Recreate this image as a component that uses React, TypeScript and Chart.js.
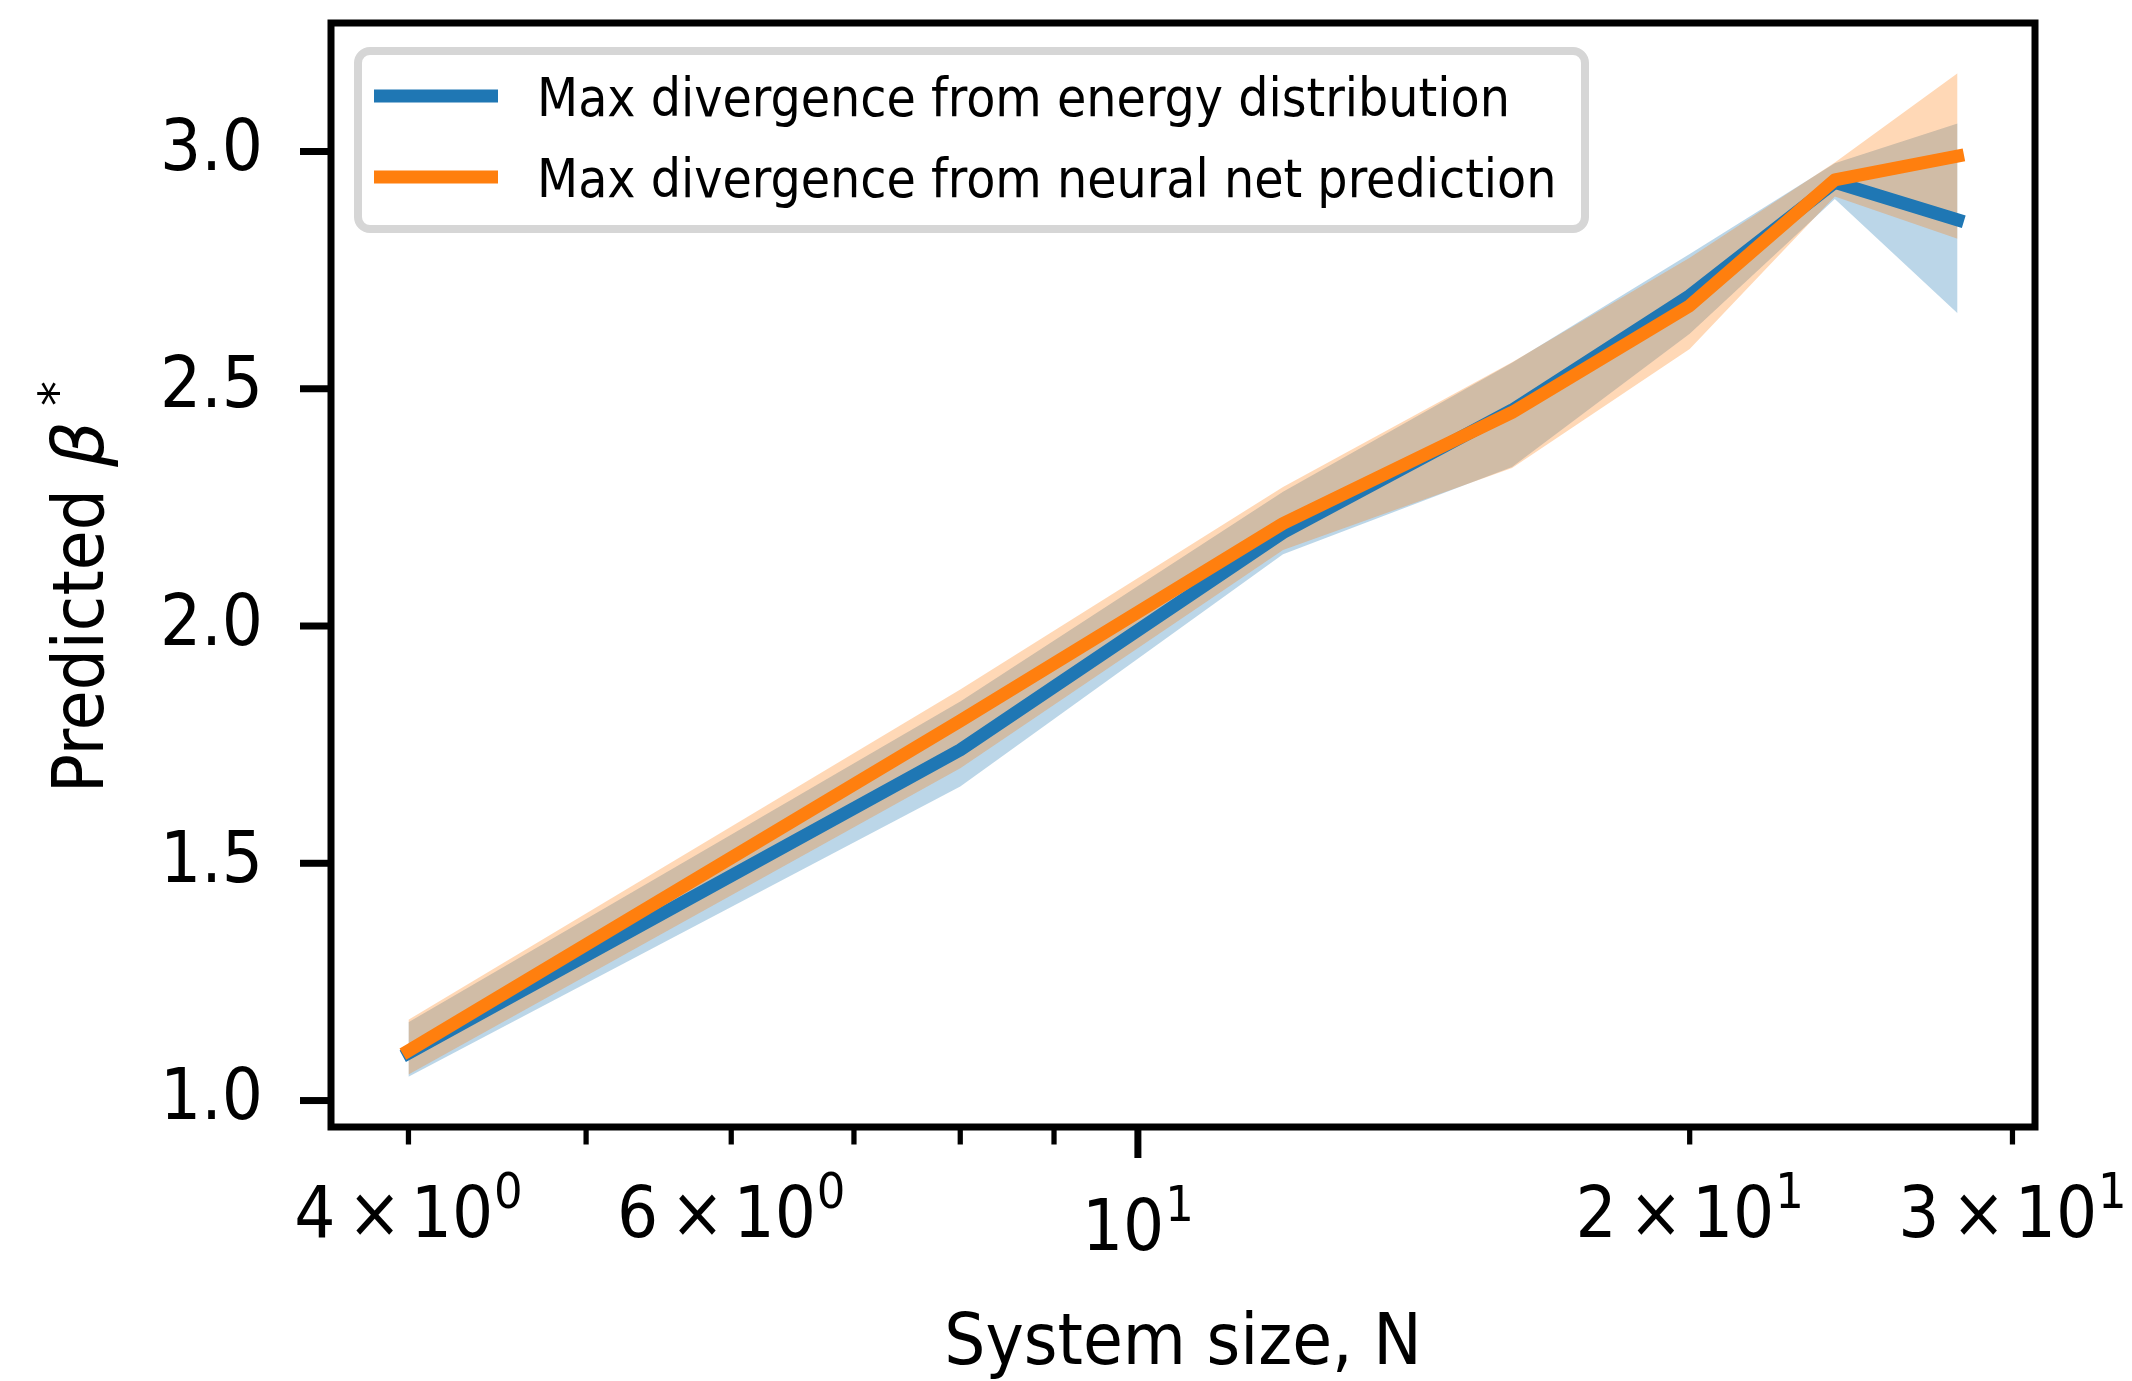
import { useEffect, useRef } from 'react';
import { Chart, registerables } from 'chart.js';

Chart.register(...registerables);

// ---------------- data ----------------
const systemSize = [4, 8, 12, 16, 20, 24, 28];

const energyMean = [1.1, 1.739, 2.197, 2.455, 2.696, 2.935, 2.856];
const energyLow = [1.05, 1.662, 2.151, 2.335, 2.616, 2.9, 2.659];
const energyHigh = [1.165, 1.841, 2.283, 2.555, 2.784, 2.975, 3.059];

const netMean = [1.105, 1.8, 2.216, 2.45, 2.675, 2.94, 2.99];
const netLow = [1.055, 1.7, 2.16, 2.333, 2.584, 2.905, 2.816];
const netHigh = [1.17, 1.866, 2.293, 2.556, 2.776, 2.977, 3.165];

const seriesLabels = [
  'Max divergence from energy distribution',
  'Max divergence from neural net prediction',
];

const xTickValues = [4, 5, 6, 7, 8, 9, 10, 20, 30];
const xTickMantissa = ['4', '', '6', '', '', '', '', '2', '3'];
const xTickExp = ['0', '', '0', '', '', '', '1', '1', '1'];
const xMajorTicks = [10];
const yTickValues = [1.0, 1.5, 2.0, 2.5, 3.0];

const xTitle = 'System size, N';
const yTitleParts = ['Predicted', 'β', '*'];

// ---------------- style ----------------
const FAMILY = "'DejaVu Sans Condensed', 'DejaVu Sans', sans-serif";
const MATH_FAMILY = "'DejaVu Sans', sans-serif";
const BLUE = '#1f77b4';
const ORANGE = '#ff7f0e';
const BLUE_FILL = 'rgba(31,119,180,0.3)';
const ORANGE_FILL = 'rgba(255,127,14,0.3)';

const W = 2132;
const H = 1381;

const pts = (ys: number[]) => systemSize.map((x, i) => ({ x, y: ys[i] }));

// axis ranges with 5% margins (matplotlib-like)
const xLo = Math.min(...systemSize);
const xHi = Math.max(...systemSize);
const xRatio = Math.pow(xHi / xLo, 0.05);
const allY = [...energyLow, ...energyHigh, ...netLow, ...netHigh, ...energyMean, ...netMean];
const yLo = Math.min(...allY);
const yHi = Math.max(...allY);
const yPad = (yHi - yLo) * 0.05;

const zeroPad = (scale: any) => {
  scale.paddingTop = 0;
  scale.paddingBottom = 0;
  scale.paddingLeft = 0;
  scale.paddingRight = 0;
};

const decorPlugin = {
  id: 'decor',
  afterDraw(chart: any) {
    const { ctx, chartArea: a, scales } = chart;
    const xs = scales.x;
    const ys = scales.y;
    ctx.save();
    ctx.strokeStyle = '#000';
    ctx.fillStyle = '#000';
    ctx.lineCap = 'butt';
    const BIG = `72px ${FAMILY}`;
    const SMALL = `50px ${FAMILY}`;
    // x ticks + labels with superscripts
    xs.ticks.forEach((t: any) => {
      const px = xs.getPixelForValue(t.value);
      const major = xMajorTicks.includes(t.value);
      ctx.lineWidth = major ? 7 : 5.25;
      const len = major ? 31 : 17.5;
      ctx.beginPath();
      ctx.moveTo(px, a.bottom);
      ctx.lineTo(px, a.bottom + len);
      ctx.stroke();
      const idx = xTickValues.indexOf(t.value);
      if (idx < 0 || !xTickExp[idx]) return;
      const parts: { text: string; font: string; gap: number; raise: number }[] = [];
      if (xTickMantissa[idx]) {
        parts.push({ text: xTickMantissa[idx], font: BIG, gap: 12, raise: 0 });
        parts.push({ text: '×', font: BIG, gap: 9, raise: 0 });
      }
      parts.push({ text: '10', font: BIG, gap: 1, raise: 0 });
      parts.push({ text: xTickExp[idx], font: SMALL, gap: 0, raise: 29 });
      let total = 0;
      const widths = parts.map((p, k) => {
        ctx.font = p.font;
        const w = ctx.measureText(p.text).width;
        total += w + (k < parts.length - 1 ? p.gap : 0);
        return w;
      });
      ctx.textBaseline = 'alphabetic';
      ctx.textAlign = 'left';
      const base = a.bottom + (major ? 123 : 110);
      let cx = px - total / 2;
      parts.forEach((p, k) => {
        ctx.font = p.font;
        ctx.fillText(p.text, cx, base - p.raise);
        cx += widths[k] + p.gap;
      });
    });
    // y ticks
    ys.ticks.forEach((t: any) => {
      const py = ys.getPixelForValue(t.value);
      ctx.lineWidth = 7;
      ctx.beginPath();
      ctx.moveTo(a.left, py);
      ctx.lineTo(a.left - 31, py);
      ctx.stroke();
    });
    // spines
    ctx.lineWidth = 7;
    ctx.lineJoin = 'miter';
    ctx.strokeRect(a.left, a.top, a.right - a.left, a.bottom - a.top);

    // y-axis title (rich text), placed by glyph ink extents
    ctx.save();
    ctx.fillStyle = '#000';
    ctx.textBaseline = 'alphabetic';
    ctx.textAlign = 'left';
    ctx.translate(103, (a.top + a.bottom) / 2 + 212);
    ctx.rotate(-Math.PI / 2);
    ctx.font = BIG;
    let m = ctx.measureText(yTitleParts[0]);
    ctx.fillText(yTitleParts[0], m.actualBoundingBoxLeft, 0);
    ctx.font = `italic 72px ${MATH_FAMILY}`;
    m = ctx.measureText(yTitleParts[1]);
    ctx.fillText(yTitleParts[1], 319 + m.actualBoundingBoxLeft, 0);
    ctx.font = `50px ${MATH_FAMILY}`;
    m = ctx.measureText(yTitleParts[2]);
    const raise = 43 + m.actualBoundingBoxDescent;
    ctx.fillText(yTitleParts[2], 382 + m.actualBoundingBoxLeft, -raise);
    ctx.restore();

    // legend
    const lx = a.left + 27;
    const ly = a.top + 28;
    const lw = 1227;
    const lh = 178;
    ctx.beginPath();
    ctx.roundRect(lx, ly, lw, lh, 12);
    ctx.fillStyle = 'rgba(255,255,255,0.8)';
    ctx.fill();
    ctx.lineWidth = 8;
    ctx.strokeStyle = '#d6d6d6';
    ctx.stroke();
    const lineColors = [BLUE, ORANGE];
    const rowY = [a.top + 73, a.top + 154];
    ctx.font = `53px ${FAMILY}`;
    ctx.textBaseline = 'alphabetic';
    ctx.textAlign = 'left';
    seriesLabels.forEach((label, i) => {
      ctx.fillStyle = lineColors[i];
      ctx.fillRect(a.left + 43, rowY[i] - 6.5, 124, 13);
      ctx.fillStyle = '#000';
      ctx.fillText(label, a.left + 206, rowY[i] + 19.5);
    });
    ctx.restore();
  },
};

export default function App() {
  const ref = useRef<HTMLCanvasElement | null>(null);

  useEffect(() => {
    if (!ref.current) return;
    const chart = new Chart(ref.current, {
      type: 'line',
      data: {
        datasets: [
          {
            label: 'energy upper',
            data: pts(energyHigh),
            borderWidth: 0,
            borderColor: 'rgba(0,0,0,0)',
            pointRadius: 0,
            fill: false,
            order: 3,
          },
          {
            label: 'energy lower',
            data: pts(energyLow),
            borderWidth: 0,
            borderColor: 'rgba(0,0,0,0)',
            backgroundColor: BLUE_FILL,
            pointRadius: 0,
            fill: '-1',
            order: 3,
          },
          {
            label: 'net upper',
            data: pts(netHigh),
            borderWidth: 0,
            borderColor: 'rgba(0,0,0,0)',
            pointRadius: 0,
            fill: false,
            order: 2,
          },
          {
            label: 'net lower',
            data: pts(netLow),
            borderWidth: 0,
            borderColor: 'rgba(0,0,0,0)',
            backgroundColor: ORANGE_FILL,
            pointRadius: 0,
            fill: '-1',
            order: 2,
          },
          {
            label: seriesLabels[0],
            data: pts(energyMean),
            borderColor: BLUE,
            borderWidth: 13,
            borderCapStyle: 'square',
            borderJoinStyle: 'round',
            pointRadius: 0,
            fill: false,
            tension: 0,
            order: 1,
          },
          {
            label: seriesLabels[1],
            data: pts(netMean),
            borderColor: ORANGE,
            borderWidth: 13,
            borderCapStyle: 'square',
            borderJoinStyle: 'round',
            pointRadius: 0,
            fill: false,
            tension: 0,
            order: 0,
          },
        ],
      },
      options: {
        responsive: false,
        devicePixelRatio: 1,
        animation: false,
        events: [],
        layout: { padding: { left: 0, top: 23, right: 97, bottom: 0 } },
        plugins: {
          legend: { display: false },
          tooltip: { enabled: false },
          filler: { drawTime: 'beforeDatasetsDraw' },
        },
        scales: {
          x: {
            type: 'logarithmic',
            min: xLo / xRatio,
            max: xHi * xRatio,
            grid: { display: false, drawTicks: false },
            border: { display: false },
            afterFit: (scale: any) => {
              scale.height = H - 1127;
              zeroPad(scale);
            },
            afterBuildTicks: (scale: any) => {
              scale.ticks = xTickValues.map((v) => ({ value: v, major: xMajorTicks.includes(v) }));
            },
            ticks: {
              display: false,
              autoSkip: false,
              maxRotation: 0,
              minRotation: 0,
            },
            title: {
              display: true,
              text: xTitle,
              color: '#000',
              padding: 0,
              font: { family: FAMILY, size: 72, lineHeight: 1.0 },
            },
          },
          y: {
            type: 'linear',
            min: yLo - yPad,
            max: yHi + yPad,
            grid: { display: false, drawTicks: false },
            border: { display: false },
            afterFit: (scale: any) => {
              scale.width = 331;
              zeroPad(scale);
            },
            afterBuildTicks: (scale: any) => {
              scale.ticks = yTickValues.map((v) => ({ value: v }));
            },
            ticks: {
              padding: 68,
              color: '#000',
              font: { family: FAMILY, size: 72 },
              callback: (value: any) => Number(value).toFixed(1),
            },
          },
        },
      },
      plugins: [decorPlugin],
    } as any);
    return () => chart.destroy();
  }, []);

  return (
    <div style={{ position: 'absolute', left: 0, top: 0, width: W, height: H, background: '#fff' }}>
      <canvas ref={ref} width={W} height={H} style={{ display: 'block' }} />
    </div>
  );
}
